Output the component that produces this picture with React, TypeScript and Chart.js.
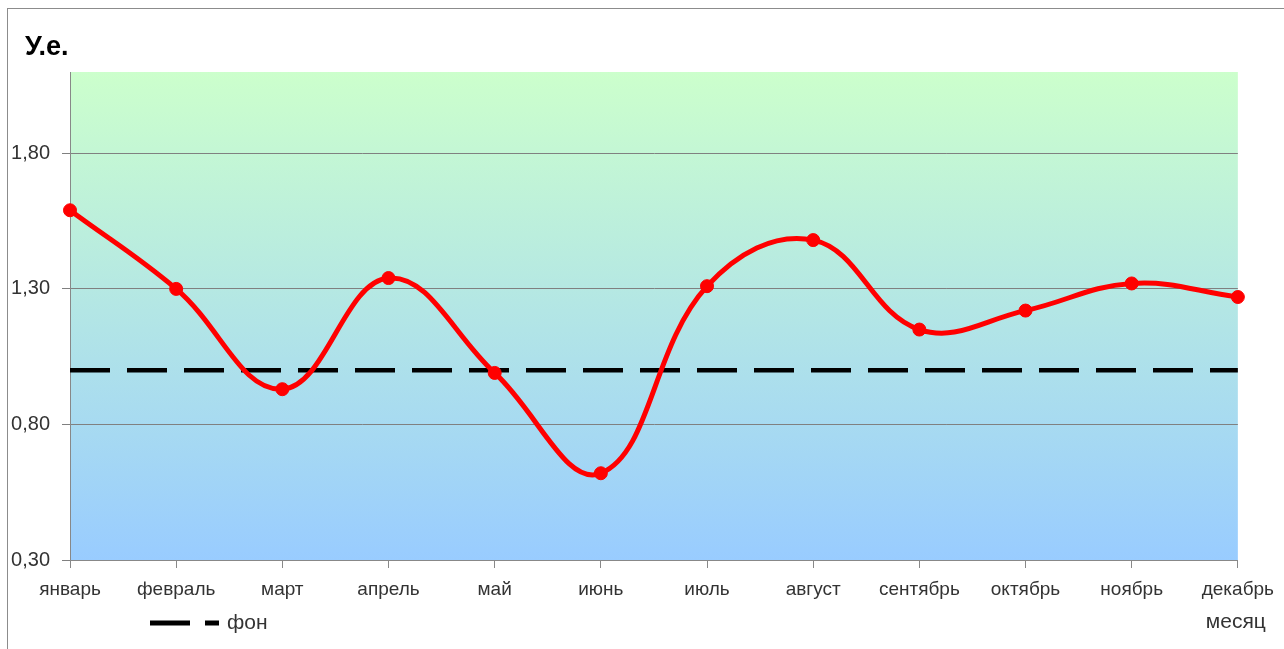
import React, { useEffect, useRef } from "react";
import { Chart, registerables } from "chart.js";

Chart.register(...registerables);

const months = ["январь", "февраль", "март", "апрель", "май", "июнь", "июль", "август", "сентябрь", "октябрь", "ноябрь", "декабрь"];
const values = [1.59, 1.3, 0.93, 1.34, 0.99, 0.62, 1.31, 1.48, 1.15, 1.22, 1.32, 1.27];
const background = [1.0, 1.0, 1.0, 1.0, 1.0, 1.0, 1.0, 1.0, 1.0, 1.0, 1.0, 1.0];
const yTicks = [0.3, 0.8, 1.3, 1.8];
const yMin = 0.3;
const yMax = 2.1;
const yTitle = "У.е.";
const xTitle = "месяц";
const legendLabel = "фон";

const LABEL_FONT = '"Liberation Sans", Arial, sans-serif';

const gradientPlugin = {
  id: "areaGradient",
  beforeDraw(chart: any) {
    const { ctx, chartArea } = chart;
    if (!chartArea) return;
    const g = ctx.createLinearGradient(0, chartArea.top, 0, chartArea.bottom);
    g.addColorStop(0, "#CCFFCC");
    g.addColorStop(1, "#99CCFF");
    ctx.save();
    ctx.fillStyle = g;
    ctx.fillRect(chartArea.left, chartArea.top, chartArea.right - chartArea.left, chartArea.bottom - chartArea.top);
    ctx.restore();
  },
};

const extrasPlugin = {
  id: "extras",
  afterDraw(chart: any) {
    const { ctx, chartArea } = chart;
    const ds = chart.data.datasets[1];
    const y = chartArea.bottom + 63;
    ctx.save();
    // title
    ctx.fillStyle = "#000000";
    ctx.font = `bold 27px ${LABEL_FONT}`;
    ctx.textBaseline = "alphabetic";
    ctx.textAlign = "left";
    ctx.fillText(yTitle, 25, 55);
    // legend line
    ctx.strokeStyle = ds.borderColor;
    ctx.lineWidth = 5;
    ctx.setLineDash([40, 15]);
    ctx.beginPath();
    ctx.moveTo(150, y);
    ctx.lineTo(219, y);
    ctx.stroke();
    ctx.setLineDash([]);
    ctx.fillStyle = "#333333";
    ctx.font = `21px ${LABEL_FONT}`;
    ctx.textBaseline = "middle";
    ctx.textAlign = "left";
    ctx.fillText(ds.label, 227, y);
    // x axis title
    ctx.textAlign = "right";
    ctx.fillText(xTitle, chartArea.right + 28, y - 1);
    ctx.restore();
  },
};

export default function App() {
  const ref = useRef<HTMLCanvasElement | null>(null);

  useEffect(() => {
    if (!ref.current) return;
    const chart = new Chart(ref.current, {
      type: "line",
      data: {
        labels: months,
        datasets: [
          {
            label: "значение",
            data: values,
            borderColor: "#FF0000",
            backgroundColor: "#FF0000",
            borderWidth: 5,
            pointRadius: 6.5,
            pointBorderWidth: 1,
            pointBackgroundColor: "#FF0000",
            pointBorderColor: "#FF0000",
            tension: 0.4,
            fill: false,
          },
          {
            label: legendLabel,
            data: background,
            borderColor: "#000000",
            backgroundColor: "#000000",
            borderWidth: 4.5,
            borderDash: [40, 17],
            pointRadius: 0,
            tension: 0,
            fill: false,
          },
        ],
      },
      options: {
        responsive: false,
        animation: false,
        layout: { padding: { left: 4, right: 44, top: 72, bottom: 49 } },
        plugins: {
          legend: { display: false },
          tooltip: { enabled: false },
          title: { display: false },
        },
        scales: {
          x: {
            offset: false,
            grid: { drawOnChartArea: false, drawTicks: true, tickLength: 8, color: "#888888" },
            border: { color: "#888888", width: 1 },
            ticks: {
              color: "#333333",
              font: { family: LABEL_FONT, size: 19 },
              padding: 10,
              maxRotation: 0,
              autoSkip: false,
            },
            afterFit(scale: any) {
              scale.height = 40;
            },
          },
          y: {
            min: yMin,
            max: yMax,
            grid: { color: "#808080", tickLength: 8, lineWidth: 1 },
            border: { color: "#888888", width: 1 },
            ticks: {
              color: "#333333",
              font: { family: LABEL_FONT, size: 20 },
              padding: 12,
              callback: (v: any) => Number(v).toFixed(2).replace(".", ","),
            },
            afterBuildTicks(scale: any) {
              scale.ticks = yTicks.map((v) => ({ value: v }));
            },
            afterFit(scale: any) {
              scale.width = 66;
            },
          },
        },
      },
      plugins: [gradientPlugin, extrasPlugin],
    });
    return () => chart.destroy();
  }, []);

  return (
    <div style={{ position: "fixed", left: 0, top: 0, width: 1284, height: 649, overflow: "hidden", background: "#fff" }}>
      <div
        style={{
          position: "absolute",
          left: 7,
          top: 8,
          width: 1400,
          height: 700,
          border: "1px solid #8c8c8c",
          boxSizing: "border-box",
        }}
      />
      <canvas ref={ref} width={1284} height={649} style={{ position: "absolute", left: 0, top: 0, width: 1284, height: 649 }} />
    </div>
  );
}
